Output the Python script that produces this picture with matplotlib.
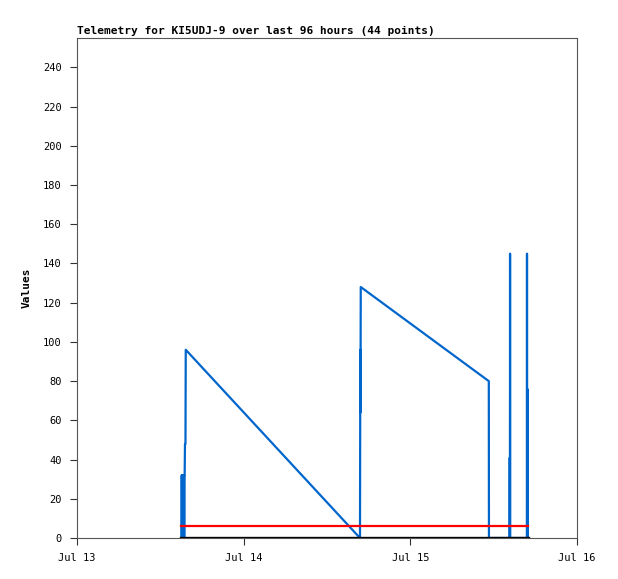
import matplotlib
matplotlib.use('Agg')
import matplotlib.pyplot as plt
import matplotlib.dates as mdates
from datetime import datetime, timedelta

# telemetry points, hours after Jul 13 00:00
t0 = datetime(2024, 7, 13)
blue_hours = [15.05, 15.08, 15.12, 15.16, 15.2, 15.24, 15.28, 15.32, 15.36, 15.4,
              15.44, 15.48, 15.5, 15.55, 15.62, 15.66, 40.75, 40.8, 40.82, 40.84,
              40.86, 59.3, 59.32, 62.3, 62.32, 62.34, 62.36, 62.38, 64.78, 64.8,
              64.82, 64.86, 64.88, 64.9]
blue_vals = [0, 32, 0, 32, 0, 32, 0, 32, 0, 32,
             0, 32, 32, 48, 48, 96, 0, 96, 64, 96,
             128, 80, 0, 0, 41, 0, 145, 0, 0, 145,
             0, 76, 48, 0]
red_hours = [15.0, 64.9]
red_vals = [6, 6]
black_hours = [15.0, 64.9]
black_vals = [0, 0]

def to_dt(hours):
    return [t0 + timedelta(hours=h) for h in hours]

plt.rcParams['font.family'] = 'DejaVu Sans Mono'

fig = plt.figure(figsize=(6.18, 5.79), dpi=100)
ax = fig.add_axes([77/618, 41/579, 500/618, 500/579])

ax.plot(to_dt(blue_hours), blue_vals, color='#0066cc', lw=1.6)
ax.plot(to_dt(red_hours), red_vals, color='#ff0000', lw=1.6)
ax.plot(to_dt(black_hours), black_vals, color='black', lw=2.4)

ax.set_xlim(t0, t0 + timedelta(days=3))
ax.set_ylim(0, 255)
ax.set_yticks(range(0, 241, 20))
ax.xaxis.set_major_locator(mdates.DayLocator())
ax.xaxis.set_major_formatter(mdates.DateFormatter('%b %d'))
ax.tick_params(labelsize=7.5, length=5, width=0.8, color='#333333', pad=6)
for s in ax.spines.values():
    s.set_color('#555555')
    s.set_linewidth(0.8)

ax.set_ylabel('Values', fontsize=8, fontweight='bold', labelpad=8)
ax.set_title('Telemetry for KI5UDJ-9 over last 96 hours (44 points)',
             loc='left', fontsize=8, fontweight='bold', pad=3)

fig.savefig('out.png', dpi=100)
